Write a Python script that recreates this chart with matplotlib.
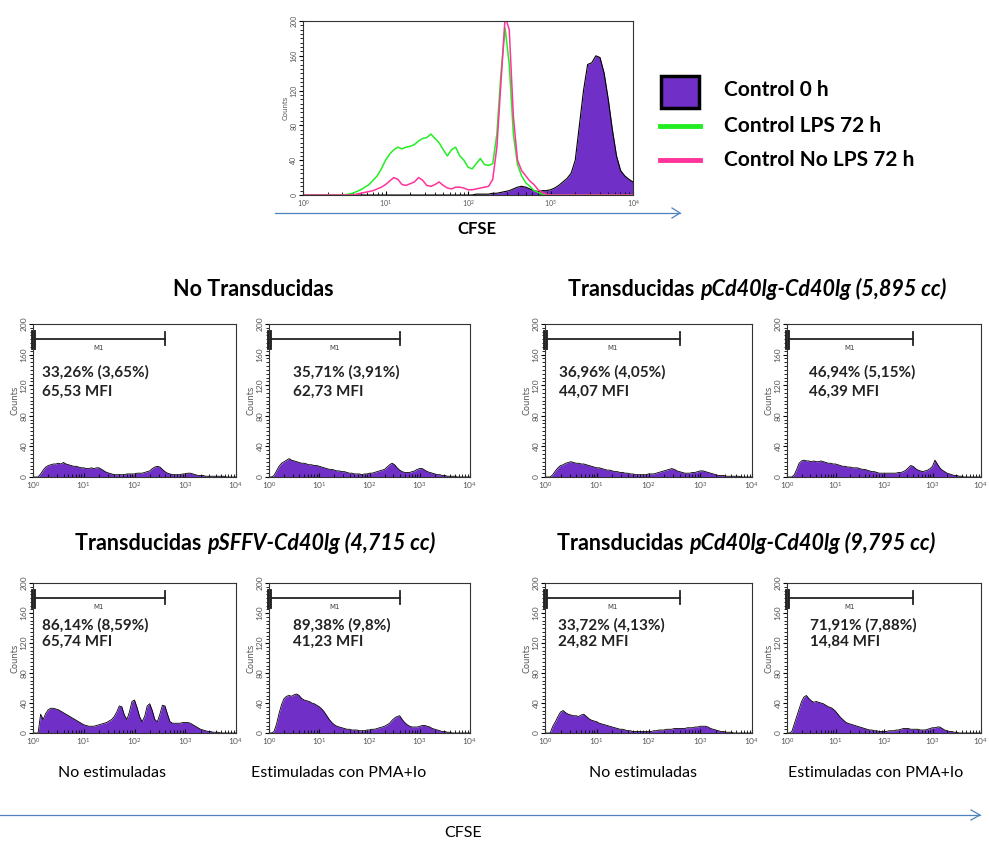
#%%
# Proliferación (dilución de CFSE) - histogramas de citometría
import numpy as np
import matplotlib.pyplot as plt
from matplotlib.patches import Rectangle
from matplotlib.lines import Line2D
from matplotlib.ticker import MultipleLocator, LogLocator, NullFormatter

plt.rcParams['font.family'] = ['Lato', 'DejaVu Sans']

#%%
# canal CFSE (log10), un bin cada 0,05 décadas de 10^0 a 10^4
log_cfse = np.round(np.arange(0, 4.001, 0.05), 2)
cfse = 10 ** log_cfse

# histograma de controles (Counts)
control_0h = [0]*20 + [0]*20 + \
    [0, 0, 1, 1, 1, 1, 2, 2, 3, 4, 5, 7, 9, 10, 9, 7, 5, 4, 5, 5] + \
    [6, 8, 11, 15, 19, 25, 40, 80, 120, 150, 152, 160, 158, 140, 110, 75, 45, 28, 22, 18] + [15]
control_lps = [0, 0, 0, 0, 0, 0, 0, 0, 0, 0, 0, 1, 2, 4, 6, 9, 12, 17, 22, 30] + \
    [40, 47, 52, 55, 53, 55, 56, 58, 62, 65, 66, 70, 65, 60, 52, 45, 52, 55, 45, 40] + \
    [32, 30, 36, 42, 35, 34, 36, 70, 140, 192, 150, 70, 35, 22, 14, 10, 5, 3, 1, 0] + \
    [0]*20 + [0]
control_no_lps = [0]*13 + [1, 2, 3, 4, 5, 7, 9] + \
    [12, 16, 20, 18, 12, 11, 13, 15, 20, 17, 11, 10, 12, 15, 11, 8, 7, 9, 9, 8] + \
    [6, 6, 7, 8, 9, 10, 18, 55, 130, 205, 190, 90, 40, 28, 22, 16, 12, 6, 3, 1] + \
    [0]*20 + [0]

# paneles pequeños (Counts)
no_trans_no_est = [0, 0, 0, 4, 9, 13, 15, 16, 17, 17, 18, 17, 19, 17, 16, 15, 14, 14, 13, 12] + \
    [12, 11, 11, 12, 11, 12, 12, 10, 8, 6, 5, 4, 3, 3, 3, 3, 3, 4, 4, 4] + \
    [4, 5, 5, 5, 6, 7, 8, 11, 13, 14, 13, 10, 7, 5, 4, 3, 3, 3, 3, 4] + \
    [4, 5, 5, 4, 3, 2, 2, 2, 1, 1, 1, 1, 1, 1, 1, 1, 0, 0, 0, 0] + [0]
no_trans_est = [0, 0, 2, 8, 14, 18, 20, 22, 24, 22, 21, 20, 19, 18, 18, 17, 16, 16, 15, 15] + \
    [14, 13, 12, 11, 10, 10, 9, 8, 8, 7, 7, 6, 5, 5, 4, 4, 4, 3, 4, 4] + \
    [5, 5, 6, 7, 8, 9, 10, 13, 16, 18, 16, 12, 9, 7, 6, 6, 6, 7, 8, 10] + \
    [11, 11, 9, 7, 6, 5, 4, 3, 3, 2, 2, 1, 1, 1, 1, 0, 0, 0, 0, 0] + [0]
cd40_5895_no_est = [0, 0, 0, 3, 8, 12, 15, 16, 18, 19, 20, 19, 18, 18, 17, 17, 16, 15, 14, 13] + \
    [12, 12, 11, 10, 9, 9, 8, 7, 7, 6, 6, 5, 5, 4, 4, 3, 3, 3, 3, 3] + \
    [4, 4, 4, 5, 6, 7, 8, 9, 10, 11, 10, 8, 7, 6, 5, 5, 5, 6, 6, 7] + \
    [8, 8, 7, 6, 5, 4, 3, 2, 2, 2, 1, 1, 1, 1, 1, 1, 0, 0, 0, 0] + [0]
cd40_5895_est = [0, 0, 0, 3, 10, 18, 21, 22, 21, 21, 20, 21, 20, 20, 21, 20, 19, 18, 18, 17] + \
    [17, 16, 15, 14, 14, 13, 13, 12, 12, 12, 11, 10, 10, 9, 8, 7, 7, 6, 5, 5] + \
    [5, 5, 5, 5, 5, 5, 6, 6, 7, 9, 12, 15, 14, 11, 9, 8, 7, 8, 9, 11] + \
    [14, 22, 17, 12, 9, 7, 5, 4, 3, 2, 2, 1, 1, 0, 0, 0, 0, 0, 0, 0] + [0]
sffv_4715_no_est = [0, 0, 0, 25, 18, 26, 31, 33, 33, 32, 31, 29, 27, 25, 23, 21, 19, 17, 15, 13] + \
    [11, 10, 9, 9, 9, 10, 11, 12, 13, 14, 16, 18, 22, 28, 36, 35, 24, 18, 28, 42] + \
    [44, 34, 22, 15, 22, 36, 39, 30, 18, 15, 25, 37, 36, 25, 15, 13, 13, 13, 13, 14] + \
    [14, 14, 13, 11, 9, 7, 5, 4, 3, 2, 2, 1, 1, 1, 0, 0, 0, 0, 0, 0] + [0]
sffv_4715_est = [0, 0, 2, 12, 26, 38, 46, 49, 50, 49, 51, 52, 50, 46, 44, 43, 42, 40, 39, 37] + \
    [35, 32, 28, 23, 18, 14, 11, 9, 8, 7, 6, 5, 5, 4, 4, 4, 3, 3, 3, 4] + \
    [4, 5, 5, 6, 7, 8, 9, 11, 13, 17, 20, 22, 23, 18, 14, 11, 9, 8, 8, 8] + \
    [9, 10, 10, 9, 8, 6, 5, 4, 3, 2, 2, 1, 1, 0, 0, 0, 0, 0, 0, 0] + [0]
cd40_9795_no_est = [0, 0, 0, 9, 15, 22, 28, 30, 27, 25, 24, 23, 23, 22, 24, 25, 22, 19, 17, 16] + \
    [15, 13, 12, 11, 10, 9, 8, 7, 6, 5, 5, 4, 3, 3, 2, 2, 2, 2, 2, 2] + \
    [2, 2, 3, 3, 4, 4, 4, 5, 5, 5, 6, 6, 6, 6, 6, 7, 7, 7, 8, 8] + \
    [9, 9, 9, 8, 6, 5, 4, 3, 2, 2, 1, 1, 1, 0, 0, 0, 0, 0, 0, 0] + [0]
cd40_9795_est = [0, 0, 2, 12, 22, 32, 42, 48, 50, 46, 43, 41, 42, 41, 40, 39, 37, 35, 34, 32] + \
    [29, 25, 21, 18, 15, 13, 12, 11, 10, 9, 8, 7, 6, 5, 4, 4, 3, 3, 2, 2] + \
    [2, 2, 3, 3, 3, 4, 4, 5, 6, 6, 6, 5, 5, 5, 5, 4, 4, 4, 5, 6] + \
    [7, 7, 8, 8, 6, 4, 3, 2, 2, 1, 1, 0, 0, 0, 0, 0, 0, 0, 0, 0] + [0]

small_counts = [no_trans_no_est, no_trans_est, cd40_5895_no_est, cd40_5895_est,
                sffv_4715_no_est, sffv_4715_est, cd40_9795_no_est, cd40_9795_est]
pct_labels = ['33,26% (3,65%)', '35,71% (3,91%)', '36,96% (4,05%)', '46,94% (5,15%)',
              '86,14% (8,59%)', '89,38% (9,8%)', '33,72% (4,13%)', '71,91% (7,88%)']
mfi_labels = ['65,53 MFI', '62,73 MFI', '44,07 MFI', '46,39 MFI',
              '65,74 MFI', '41,23 MFI', '24,82 MFI', '14,84 MFI']
gate_m1 = (1, 400)  # marcador M1
legend_labels = ['Control 0 h', 'Control LPS 72 h', 'Control No LPS 72 h']
col_labels = ['No estimuladas', 'Estimuladas con PMA+Io']

purple = '#7030C8'
green = '#22EE22'
pink = '#FF3399'
arrow_col = '#4F81BD'

#%%
def style_hist(ax, fs):
    ax.set_xscale('log')
    ax.set_xlim(1, 1e4)
    ax.set_ylim(0, 200)
    ax.set_yticks([0, 40, 80, 120, 160, 200])
    ax.yaxis.set_minor_locator(MultipleLocator(5))
    ax.xaxis.set_major_locator(LogLocator(base=10, numticks=10))
    ax.xaxis.set_minor_locator(LogLocator(base=10, subs=np.arange(2, 10), numticks=10))
    ax.xaxis.set_minor_formatter(NullFormatter())
    ax.tick_params(axis='y', which='major', labelsize=fs, labelcolor='#555555', length=3,
                   width=0.8, pad=1, labelrotation=90)
    ax.tick_params(axis='y', which='minor', length=2, width=0.6)
    ax.tick_params(axis='x', which='major', labelsize=fs, labelcolor='#555555', length=3,
                   direction='in', width=0.8, pad=2)
    ax.tick_params(axis='x', which='minor', length=2, direction='in', width=0.6)
    for lab in ax.get_yticklabels():
        lab.set_va('center')
    ax.set_ylabel('Counts', fontsize=fs, color='#555555', labelpad=1,
                  family='DejaVu Sans')
    for sp in ax.spines.values():
        sp.set_linewidth(0.8)
        sp.set_color('#333333')


fig = plt.figure(figsize=(9.89, 8.41), dpi=100)
W, H = 989.0, 841.0


def fx(px):
    return px / W


def fy(py):
    return 1 - py / H


# histograma superior
ax0 = fig.add_axes([fx(303), fy(195), fx(633) - fx(303), (195 - 21) / H])
ax0.fill_between(cfse, control_0h, color=purple, lw=0)
ax0.plot(cfse, control_0h, color='black', lw=0.8)
ax0.plot(cfse, control_lps, color=green, lw=1.1)
ax0.plot(cfse, control_no_lps, color=pink, lw=1.1)
style_hist(ax0, 5)

fig.add_artist(Line2D([fx(275), fx(680)], [fy(213), fy(213)], color=arrow_col, lw=0.9))
fig.add_artist(Line2D([fx(672), fx(680), fx(672)], [fy(208), fy(213), fy(218)],
                      color=arrow_col, lw=0.9))
fig.text(fx(477), fy(229), 'CFSE', ha='center', va='center', fontsize=12, fontweight='bold')

# leyenda
fig.add_artist(Rectangle((fx(661), fy(108)), fx(699) - fx(661), (108 - 76) / H,
                         transform=fig.transFigure, fc=purple, ec='black', lw=2.5))
fig.add_artist(Line2D([fx(660), fx(700)], [fy(126), fy(126)], color=green, lw=3.5))
fig.add_artist(Line2D([fx(660), fx(700)], [fy(160), fy(160)], color=pink, lw=3.5))
for lab, py in zip(legend_labels, [90, 126, 160]):
    fig.text(fx(724), fy(py), lab, ha='left', va='center', fontsize=15, fontweight='bold')

#%%
# paneles pequeños
lefts = [33, 269, 545, 787]
rights = [236, 470, 752, 981]
rows = [(324, 477), (583, 733)]
text_x = [0.045, 0.12, 0.07, 0.115, 0.045, 0.12, 0.065, 0.12]
text_y = [(0.686, 0.56), (0.72, 0.607)]

for i, counts in enumerate(small_counts):
    r, c = divmod(i, 4)
    top, bot = rows[r]
    ax = fig.add_axes([fx(lefts[c]), fy(bot), fx(rights[c]) - fx(lefts[c]), (bot - top) / H])
    ax.fill_between(cfse, counts, color=purple, lw=0)
    ax.plot(cfse, counts, color='black', lw=0.6)
    style_hist(ax, 6)
    ax.plot(gate_m1, [180, 180], color='#222222', lw=1.3)
    ax.plot([gate_m1[1]] * 2, [172, 189], color='#222222', lw=1.3)
    ax.plot([gate_m1[0]] * 2, [170, 190], color='#222222', lw=3.5, clip_on=False)
    ax.text(20, 168, 'M1', ha='center', va='center', fontsize=5, color='#444444',
            family='DejaVu Sans')
    ax.text(text_x[i], text_y[r][0], pct_labels[i], transform=ax.transAxes,
            ha='left', va='center', fontsize=11, fontweight='bold', color='#222222')
    ax.text(text_x[i], text_y[r][1], mfi_labels[i], transform=ax.transAxes,
            ha='left', va='center', fontsize=11, fontweight='bold', color='#222222')

#%%
# títulos de grupos
fig.text(fx(253), fy(289), 'No Transducidas', ha='center', va='center',
         fontsize=15.5, fontweight='bold')
renderer = fig.canvas.get_renderer()
group_titles = [('Transducidas', 'pCd40lg-Cd40lg (5,895 cc)', 568, 289),
                ('Transducidas', 'pSFFV-Cd40lg (4,715 cc)', 75, 543),
                ('Transducidas', 'pCd40lg-Cd40lg (9,795 cc)', 557, 543)]
for plain, ital, px, py in group_titles:
    t = fig.text(fx(px), fy(py), plain + ' ', ha='left', va='center',
                 fontsize=15.5, fontweight='bold')
    bb = t.get_window_extent(renderer)
    fig.text(bb.x1 / fig.bbox.width, fy(py), ital, ha='left', va='center',
             fontsize=15.5, fontweight='bold', style='italic')

for px, lab in zip([112, 339, 643, 876], col_labels * 2):
    fig.text(fx(px), fy(773), lab, ha='center', va='center', fontsize=11.5)

fig.add_artist(Line2D([fx(0), fx(980)], [fy(815), fy(815)], color=arrow_col, lw=0.9))
fig.add_artist(Line2D([fx(971), fx(980), fx(971)], [fy(810), fy(815), fy(820)],
                      color=arrow_col, lw=0.9))
fig.text(fx(463), fy(833), 'CFSE', ha='center', va='center', fontsize=11.5)

fig.savefig('out.png', dpi=100)
